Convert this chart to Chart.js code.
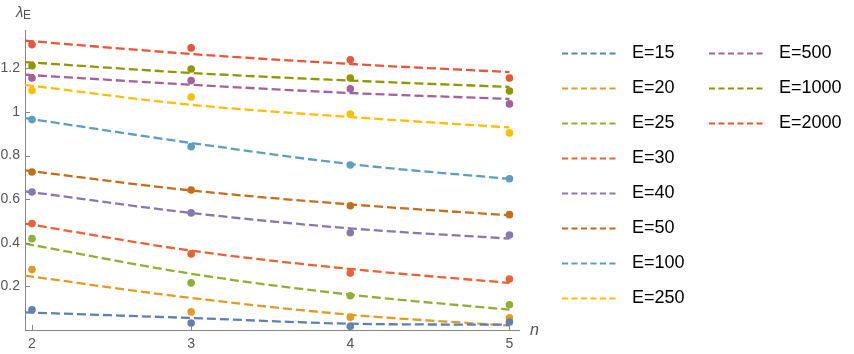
<!DOCTYPE html>
<html>
<head>
<meta charset="utf-8">
<script src="https://cdn.jsdelivr.net/npm/chart.js@4.4.1/dist/chart.umd.min.js"></script>
<style>
  html, body { margin: 0; padding: 0; background: #fff; }
  #wrap { width: 854px; height: 354px; position: relative; }
</style>
</head>
<body>
<div id="wrap"><canvas id="lambdaChart"></canvas></div>
<script>
// n values for the measured points and for the fitted curves
var nPoints = [2, 3, 4, 5];
var nFit = [1.956, 3, 4, 5];

var energyLabels = ['E=15', 'E=20', 'E=25', 'E=30', 'E=40', 'E=50', 'E=100', 'E=250', 'E=500', 'E=1000', 'E=2000'];
var energyColors = ['#5E81B5', '#E19C24', '#8FB032', '#EB6235', '#8778B3', '#C56E1A', '#5D9EC7', '#FFBF00', '#A5609D', '#929600', '#E95536'];

// measured lambda_E
var pts15   = [0.093, 0.032, 0.017, 0.037];
var pts20   = [0.277, 0.083, 0.058, 0.056];
var pts25   = [0.419, 0.216, 0.157, 0.116];
var pts30   = [0.488, 0.349, 0.261, 0.234];
var pts40   = [0.633, 0.537, 0.446, 0.436];
var pts50   = [0.725, 0.642, 0.570, 0.529];
var pts100  = [0.965, 0.841, 0.757, 0.694];
var pts250  = [1.098, 1.069, 0.991, 0.904];
var pts500  = [1.156, 1.144, 1.106, 1.037];
var pts1000 = [1.212, 1.197, 1.156, 1.096];
var pts2000 = [1.309, 1.294, 1.239, 1.156];

// fitted curves (dashed)
var fit15   = [0.081, 0.055, 0.029, 0.024];
var fit20   = [0.249, 0.147, 0.070, 0.020];
var fit25   = [0.396, 0.258, 0.162, 0.093];
var fit30   = [0.488, 0.364, 0.280, 0.216];
var fit40   = [0.636, 0.537, 0.466, 0.419];
var fit50   = [0.732, 0.640, 0.576, 0.526];
var fit100  = [0.972, 0.858, 0.761, 0.693];
var fit250  = [1.124, 1.033, 0.977, 0.929];
var fit500  = [1.171, 1.125, 1.087, 1.060];
var fit1000 = [1.229, 1.179, 1.144, 1.115];
var fit2000 = [1.327, 1.266, 1.220, 1.183];

var xTicks = [2, 3, 4, 5];
var yTicks = [0.2, 0.4, 0.6, 0.8, 1, 1.2];

var allPts = [pts15, pts20, pts25, pts30, pts40, pts50, pts100, pts250, pts500, pts1000, pts2000];
var allFits = [fit15, fit20, fit25, fit30, fit40, fit50, fit100, fit250, fit500, fit1000, fit2000];

function toXY(xs, ys) {
    return xs.map(function (x, i) { return { x: x, y: ys[i] }; });
}

var datasets = [];
allFits.forEach(function (fit, i) {
    datasets.push({
        label: energyLabels[i],
        data: toXY(nFit, fit),
        showLine: true,
        borderColor: energyColors[i],
        borderWidth: 2.3,
        borderDash: [9, 4],
        pointRadius: 0,
        cubicInterpolationMode: 'monotone',
        order: 2
    });
});
allPts.forEach(function (pts, i) {
    datasets.push({
        label: energyLabels[i] + ' data',
        data: toXY(nPoints, pts),
        showLine: false,
        backgroundColor: energyColors[i],
        borderColor: energyColors[i],
        pointRadius: 3.8,
        pointBorderWidth: 0,
        order: 1
    });
});

// axis labels, inward ticks and the two-column legend
var extrasPlugin = {
    id: 'extras',
    afterDraw: function (chart) {
        var ctx = chart.ctx;
        var xs = chart.scales.x, ys = chart.scales.y;
        var area = chart.chartArea;
        ctx.save();
        ctx.strokeStyle = '#888';
        ctx.lineWidth = 1;
        ctx.beginPath();
        xTicks.forEach(function (t) {
            var px = Math.round(xs.getPixelForValue(t)) + 0.5;
            ctx.moveTo(px, area.bottom);
            ctx.lineTo(px, area.bottom - 5);
        });
        yTicks.forEach(function (t) {
            var py = Math.round(ys.getPixelForValue(t)) + 0.5;
            ctx.moveTo(area.left, py);
            ctx.lineTo(area.left + 5, py);
        });
        ctx.stroke();

        ctx.fillStyle = '#555';
        ctx.textBaseline = 'alphabetic';
        ctx.font = 'italic 15px "Liberation Sans", Arial, sans-serif';
        ctx.fillText('\u03bb', 16, 17);
        ctx.font = '12px "Liberation Sans", Arial, sans-serif';
        ctx.fillText('E', 23, 19);
        ctx.font = 'italic 16px "Liberation Sans", Arial, sans-serif';
        ctx.textBaseline = 'middle';
        ctx.fillText('n', 530, 331);

        // legend
        ctx.font = '18px "Liberation Sans", Arial, sans-serif';
        ctx.lineWidth = 2.2;
        ctx.setLineDash([6, 3.5]);
        for (var i = 0; i < energyLabels.length; i++) {
            var col = i < 8 ? 0 : 1;
            var row = i < 8 ? i : i - 8;
            var lx = col === 0 ? 562 : 709;
            var ly = 53.5 + row * 35;
            ctx.strokeStyle = energyColors[i];
            ctx.beginPath();
            ctx.moveTo(lx, ly);
            ctx.lineTo(lx + 57, ly);
            ctx.stroke();
            ctx.fillStyle = '#000';
            ctx.fillText(energyLabels[i], lx + 70, ly);
        }
        ctx.restore();
    }
};

var ctx = document.getElementById('lambdaChart').getContext('2d');
var lambdaChart = new Chart(ctx, {
    type: 'scatter',
    data: { datasets: datasets },
    options: {
        responsive: true,
        maintainAspectRatio: false,
        animation: false,
        layout: { padding: { left: 0, right: 335, top: 30, bottom: 0 } },
        plugins: {
            legend: { display: false },
            tooltip: { enabled: false }
        },
        scales: {
            x: {
                type: 'linear',
                min: 1.956,
                max: 5.06,
                afterFit: function (scale) { scale.height = 24; },
                afterBuildTicks: function (scale) {
                    scale.ticks = xTicks.map(function (v) { return { value: v }; });
                },
                grid: { display: false, drawTicks: false },
                border: { display: true, color: '#888', width: 1 },
                ticks: {
                    padding: 6,
                    color: '#555',
                    font: { family: '"Liberation Sans", Arial, sans-serif', size: 14 },
                    callback: function (v) { return String(v); }
                }
            },
            y: {
                type: 'linear',
                min: 0,
                max: 1.376,
                afterFit: function (scale) { scale.width = 25; },
                afterBuildTicks: function (scale) {
                    scale.ticks = yTicks.map(function (v) { return { value: v }; });
                },
                grid: { display: false, drawTicks: false },
                border: { display: true, color: '#888', width: 1 },
                ticks: {
                    padding: 5,
                    color: '#555',
                    font: { family: '"Liberation Sans", Arial, sans-serif', size: 14 },
                    callback: function (v) { return String(v); }
                }
            }
        }
    },
    plugins: [extrasPlugin]
});
</script>
</body>
</html>
